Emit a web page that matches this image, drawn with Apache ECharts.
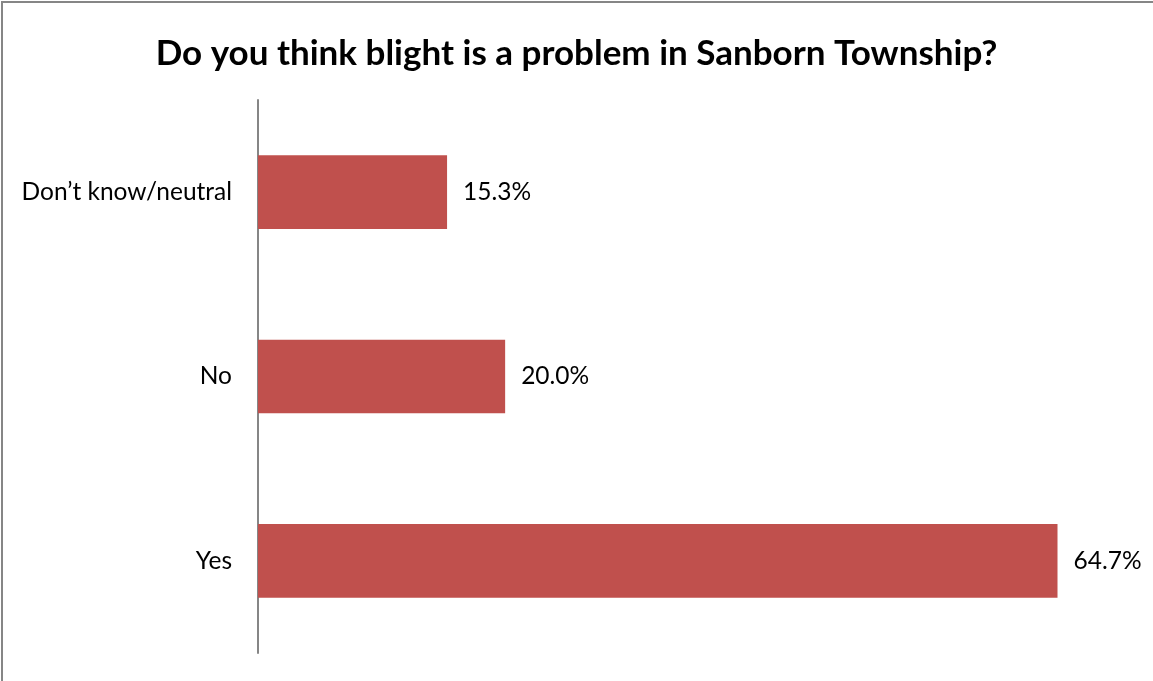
<!DOCTYPE html>
<html>
<head>
<meta charset="utf-8">
<script src="https://cdn.jsdelivr.net/npm/echarts@6/dist/echarts.min.js"></script>
<style>
  html, body { margin: 0; padding: 0; background: #fff; }
  #chart { width: 1153px; height: 681px; }
</style>
</head>
<body>
<div id="chart"></div>
<script>
var categories = ['Yes', 'No', 'Don\u2019t know/neutral']
var values = [64.7, 20.0, 15.3]
var titleText = 'Do you think blight is a problem in Sanborn Township?'

var chart = echarts.init(document.getElementById('chart'))

chart.setOption({
  animation: false,
  title: {
    text: titleText,
    left: 'center',
    top: 31,
    textStyle: { fontFamily: 'Lato', fontWeight: 'bold', fontSize: 35, color: '#000' }
  },
  graphic: [{
    type: 'rect',
    shape: { x: 2, y: 2, width: 1300, height: 900 },
    style: { fill: 'none', stroke: '#868686', lineWidth: 2 },
    silent: true
  }],
  grid: { left: 258, right: 30, top: 100, bottom: 28 },
  xAxis: {
    type: 'value',
    min: 0,
    max: 70,
    show: false
  },
  yAxis: {
    type: 'category',
    data: categories,
    axisLine: { lineStyle: { color: '#868686', width: 2 } },
    axisTick: { show: false },
    axisLabel: { margin: 26, color: '#000', fontFamily: 'Lato', fontSize: 24.5 },
    splitLine: { show: false }
  },
  series: [{
    type: 'bar',
    data: values,
    barWidth: '40%',
    itemStyle: { color: '#C0504D' },
    label: {
      show: true,
      position: 'right',
      distance: 16,
      color: '#000',
      fontFamily: 'Lato',
      fontSize: 24.5,
      formatter: function(p) { return p.value.toFixed(1) + '%' }
    }
  }]
})
</script>
</body>
</html>
